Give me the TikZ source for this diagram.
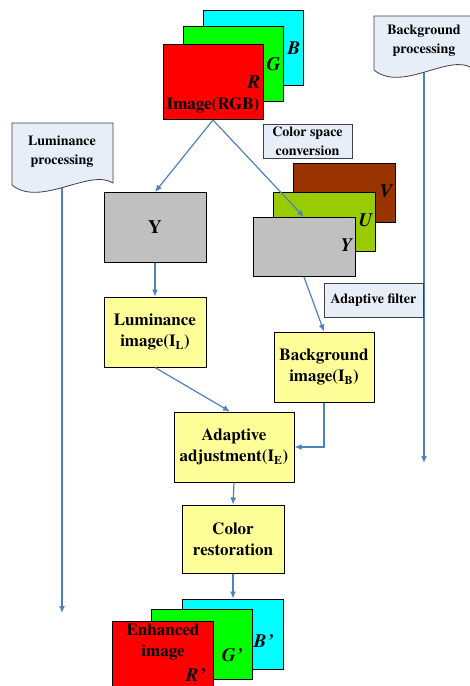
\documentclass[tikz,border=0pt]{standalone}
\usepackage{fontspec}
\setmainfont{texgyretermes}[Extension=.otf, UprightFont=*-regular, BoldFont=*-bold, ItalicFont=*-italic, BoldItalicFont=*-bolditalic]
\usetikzlibrary{arrows.meta,positioning}

\definecolor{flowblue}{RGB}{79,129,189}
\definecolor{tagfill}{RGB}{232,238,247}
\definecolor{paleyellow}{RGB}{255,255,153}
\definecolor{planegray}{RGB}{192,192,192}
\definecolor{vbrown}{RGB}{153,51,0}
\definecolor{ugreen}{RGB}{153,204,0}
\definecolor{planecyan}{RGB}{0,255,255}
\definecolor{planegreen}{RGB}{0,255,0}
\definecolor{planered}{RGB}{255,0,0}

\begin{document}
\begin{tikzpicture}[x=1pt,y=-1pt]
				\tikzstyle{flowarrow}=[draw, flowblue, line width=1.2pt, -{Latex[length=7pt,width=6pt]}]
				\tikzstyle{plane}=[draw, line width=1pt, inner sep=0pt]
				\tikzstyle{rgbplane}=[plane, minimum width=100pt, minimum height=75pt]
				\tikzstyle{yuvplane}=[plane, minimum width=102pt, minimum height=59pt]
				\tikzstyle{outplane}=[plane, minimum width=101pt, minimum height=70pt]
				\tikzstyle{chan}=[anchor=east, inner sep=0pt, font=\fontsize{19}{19}\selectfont\bfseries\itshape]
				\tikzstyle{stepbox}=[draw, line width=1pt, fill=paleyellow, align=center, inner sep=0pt, minimum width=102pt, minimum height=70pt, font=\fontsize{17}{21}\selectfont\bfseries]
				\tikzstyle{tag}=[draw=black!75, line width=0.8pt, fill=tagfill, align=center, inner sep=0pt, minimum height=34pt, font=\fontsize{14}{19}\selectfont\bfseries]
				\tikzstyle{banner}=[draw=black!75, line width=0.8pt, fill=tagfill]
				\tikzstyle{bannertext}=[align=center, inner sep=0pt, font=\fontsize{14}{19}\selectfont\bfseries]
				\newcommand\XLum{62}
				\newcommand\XBack{424}

				\useasboundingbox (0,0) rectangle (470,686);

				% Side tracks
				\coordinate (lumfoot) at (\XLum,188);
				\coordinate (lumend) at (\XLum,613);
				\coordinate (backfoot) at (\XBack,72);
				\coordinate (backend) at (\XBack,463);
				\path [flowarrow] (lumfoot) -- (lumend);
				\path [flowarrow] (backfoot) -- (backend);

				% Banners
				\path [banner] (12,123) -- (113,123) -- (113,183) .. controls (90,168) and (40,208) .. (12,185) -- cycle;
				\node [bannertext] at (62,152) (lumtag) {Luminance\\processing};
				\path [banner] (374,16) -- (472,16) -- (472,68) .. controls (449,53) and (402,93) .. (374,70) -- cycle;
				\node [bannertext] at (424,41) (backtag) {Background\\processing};

				% Input image
				\node [rgbplane, fill=planecyan] at (253,48) (B) {};
				\node [rgbplane, fill=planegreen] at (233,64) (G) {};
				\node [rgbplane, fill=planered] at (213,82) (R) {};
				\node [chan] at ([xshift=-3pt]B.east) (Blab) {B};
				\node [chan] at ([xshift=-3pt]G.east) (Glab) {G};
				\node [chan] at ([xshift=-3pt]R.east) (Rlab) {R};
				\node [inner sep=0pt, font=\fontsize{17}{21}\selectfont\bfseries] at (213,105) (rgbtext) {Image(RGB)};

				% Color space
				\node [tag, minimum width=89pt] at (307.5,141) (convert) {Color space\\conversion};
				\node [yuvplane, fill=vbrown] at (344,193) (V) {};
				\node [yuvplane, fill=ugreen] at (324,222) (U) {};
				\node [yuvplane, fill=planegray] at (304,247) (Yc) {};
				\node [chan] at ([xshift=-3pt,yshift=2pt]V.east) (Vlab) {V};
				\node [chan] at ([xshift=-3pt,yshift=2pt]U.east) (Ulab) {U};
				\node [chan] at ([xshift=-3pt,yshift=2pt]Yc.east) (Yclab) {Y};
				\node [tag, minimum width=99pt] at (373.5,300.5) (filter) {Adaptive filter};

				% Steps
				\node [stepbox, fill=planegray, font=\fontsize{19}{21}\selectfont\bfseries] at (155,227.5) (Ygray) {Y};
				\node [stepbox] at (155,332) (lumimg) {Luminance\\image(I\textsubscript{L})};
				\node [stepbox, minimum width=100pt] at (324,367) (backimg) {Background\\image(I\textsubscript{B})};
				\node [stepbox, minimum width=120pt] at (234,447) (adapt) {Adaptive\\adjustment(I\textsubscript{E})};
				\node [stepbox, minimum height=68pt] at (233,539) (restore) {Color\\restoration};

				% Output image
				\node [outplane, fill=planecyan] at (233,634) (Bout) {};
				\node [outplane, fill=planegreen] at (202,644) (Gout) {};
				\node [outplane, fill=planered] at (163,656) (Rout) {};
				\node [chan] at ([xshift=-10pt,yshift=-7pt]Bout.east) (Boutlab) {B\kern1pt’};
				\node [chan] at ([xshift=-10pt,yshift=-11pt]Gout.east) (Goutlab) {G\kern1pt’};
				\node [chan] at ([xshift=-8pt,yshift=-19pt]Rout.east) (Routlab) {R\kern1pt’};
				\node [align=center, inner sep=0pt, font=\fontsize{17}{21}\selectfont\bfseries] at (163,642) (enhtext) {Enhanced\\image};

				% Path Arrows
				\path [flowarrow] (R.south) -- (Ygray.north);
				\path [flowarrow] (R.south) -- (Yc.north);
				\path [flowarrow] (Ygray.south) -- (lumimg.north);
				\path [flowarrow] (Yc.south) -- (backimg.north);
				\path [flowarrow] (lumimg.south) -- ([xshift=-4pt]adapt.north);
				\path [flowarrow] (backimg.south) |- (adapt.east);
				\path [flowarrow] (adapt.south) -- (restore.north);
				\path [flowarrow] (restore.south) -- (Bout.north);
\end{tikzpicture}
\end{document}
